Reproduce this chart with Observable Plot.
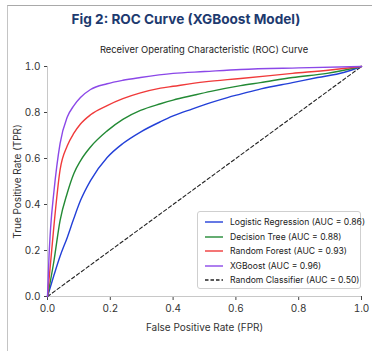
<!DOCTYPE html>
<html>
<head>
<meta charset="utf-8">
<script src="https://cdn.jsdelivr.net/npm/d3@7"></script>
<script src="https://cdn.jsdelivr.net/npm/@observablehq/plot@0.6"></script>
<style>
  html, body { margin: 0; padding: 0; background: #fff; }
  body { width: 372px; height: 363px; position: relative; overflow: hidden; font-family: Inter, "Liberation Sans", sans-serif; }
  #card { position: absolute; left: 7px; top: 5px; width: 380px; height: 345px; border-top: 1.5px solid #a9a9a9; border-left: 1.5px solid #c4c4c4; }
  #title { position: absolute; left: 0; width: 372px; top: 11px; text-align: center; font-size: 13.6px; font-weight: 700; color: #1d3a6f; }
  #subtitle { position: absolute; left: 47px; width: 314px; top: 44px; text-align: center; font-size: 9.4px; color: #222; }
  #chart { position: absolute; left: 0; top: 0; }
  #legend { position: absolute; left: 197px; top: 211px; width: 164px; height: 78px; border: 1px solid #cfcfcf; border-radius: 3px; background: rgba(255,255,255,0.9); box-sizing: border-box; }
  .item { position: absolute; left: 0; height: 12px; width: 164px; font-size: 8.6px; color: #222; line-height: 12px; }
  .item svg { position: absolute; left: 7px; top: 0; }
  .item span { position: absolute; left: 32px; top: 0; white-space: nowrap; }
</style>
</head>
<body>
<div id="card"></div>
<div id="title">Fig 2: ROC Curve (XGBoost Model)</div>
<div id="subtitle">Receiver Operating Characteristic (ROC) Curve</div>
<div id="chart"></div>
<div id="legend"></div>
<script>
const models = ["Logistic Regression", "Decision Tree", "Random Forest", "XGBoost"];
const aucs = [0.86, 0.88, 0.93, 0.96];
const colors = ["#2340d8", "#238a35", "#f03a3a", "#8b48e8"];

const lrFpr = [0, 0.02, 0.04, 0.063, 0.084, 0.105, 0.137, 0.19, 0.24, 0.296, 0.36, 0.40, 0.46, 0.52, 0.573, 0.615, 0.68, 0.78, 0.86, 0.943, 1];
const lrTpr = [0, 0.09, 0.175, 0.257, 0.34, 0.417, 0.504, 0.604, 0.665, 0.715, 0.76, 0.785, 0.815, 0.843, 0.865, 0.88, 0.903, 0.93, 0.952, 0.974, 1];

const dtFpr = [0, 0.02, 0.04, 0.063, 0.084, 0.105, 0.137, 0.19, 0.24, 0.296, 0.36, 0.40, 0.465, 0.52, 0.615, 0.678, 0.78, 0.89, 1];
const dtTpr = [0, 0.15, 0.33, 0.45, 0.535, 0.59, 0.65, 0.72, 0.77, 0.809, 0.838, 0.854, 0.875, 0.892, 0.917, 0.93, 0.952, 0.97, 1];

const rfFpr = [0, 0.01, 0.02, 0.04, 0.063, 0.084, 0.105, 0.137, 0.19, 0.24, 0.296, 0.36, 0.40, 0.5, 0.573, 0.615, 0.78, 0.9, 1];
const rfTpr = [0, 0.15, 0.30, 0.55, 0.655, 0.71, 0.75, 0.79, 0.83, 0.86, 0.885, 0.906, 0.914, 0.933, 0.943, 0.948, 0.97, 0.985, 1];

const xgFpr = [0, 0.005, 0.01, 0.02, 0.04, 0.063, 0.084, 0.105, 0.137, 0.19, 0.24, 0.296, 0.40, 0.5, 0.615, 0.8, 1];
const xgTpr = [0, 0.18, 0.30, 0.45, 0.665, 0.78, 0.83, 0.865, 0.9, 0.925, 0.94, 0.952, 0.97, 0.978, 0.987, 0.994, 1];

const randFpr = [0, 1];
const randTpr = [0, 1];

const xTicks = [0, 0.2, 0.4, 0.6, 0.8, 1.0];
const yTicks = [0, 0.2, 0.4, 0.6, 0.8, 1.0];

const series = [[lrFpr, lrTpr], [dtFpr, dtTpr], [rfFpr, rfTpr], [xgFpr, xgTpr]];
const rows = [];
series.forEach(([fx, fy], i) => fx.forEach((v, j) => rows.push({model: models[i], fpr: v, tpr: fy[j]})));
const randRows = randFpr.map((v, j) => ({fpr: v, tpr: randTpr[j]}));

const W = 372, H = 340;
const chart = Plot.plot({
  width: W, height: H,
  marginLeft: 47, marginRight: 11, marginTop: 66, marginBottom: 44,
  style: {fontFamily: "Inter, 'Liberation Sans', sans-serif", fontSize: "10px", color: "#444", background: "transparent"},
  x: {domain: [0, 1], ticks: xTicks, tickFormat: d3.format(".1f"), label: "False Positive Rate (FPR)", labelAnchor: "center", labelArrow: "none", labelOffset: 34, tickSize: 4, tickPadding: 4},
  y: {domain: [0, 1], ticks: yTicks, tickFormat: d3.format(".1f"), label: "True Positive Rate (TPR)", labelAnchor: "center", labelArrow: "none", labelOffset: 34, tickSize: 3, tickPadding: 4},
  color: {domain: models, range: colors},
  marks: [
    Plot.ruleX([0], {stroke: "#c8c8c8", strokeWidth: 1}),
    Plot.ruleY([0], {stroke: "#c8c8c8", strokeWidth: 1}),
    Plot.line(randRows, {x: "fpr", y: "tpr", stroke: "#222", strokeWidth: 1.1, strokeDasharray: "3.5,2.5"}),
    Plot.line(rows, {x: "fpr", y: "tpr", z: "model", stroke: "model", strokeWidth: 1.4, curve: "monotone-x"})
  ]
});
chart.querySelectorAll("[aria-label$='axis'] text, [aria-label$='label'] text").forEach(t => t.setAttribute("fill", "#333"));
document.getElementById("chart").appendChild(chart);

const legend = document.getElementById("legend");
const labels = models.map((m, i) => `${m} (AUC = ${aucs[i].toFixed(2)})`).concat([`Random Classifier (AUC = 0.50)`]);
const strokes = colors.concat(["#222"]);
labels.forEach((lab, i) => {
  const div = document.createElement("div");
  div.className = "item";
  div.style.top = (4 + i * 14.5) + "px";
  const dash = i === 4 ? 'stroke-dasharray="3.5,2"' : '';
  div.innerHTML = `<svg width="20" height="12"><line x1="0" x2="18" y1="6" y2="6" stroke="${strokes[i]}" stroke-width="1.4" ${dash}/></svg><span>${lab}</span>`;
  legend.appendChild(div);
});
</script>
</body>
</html>
